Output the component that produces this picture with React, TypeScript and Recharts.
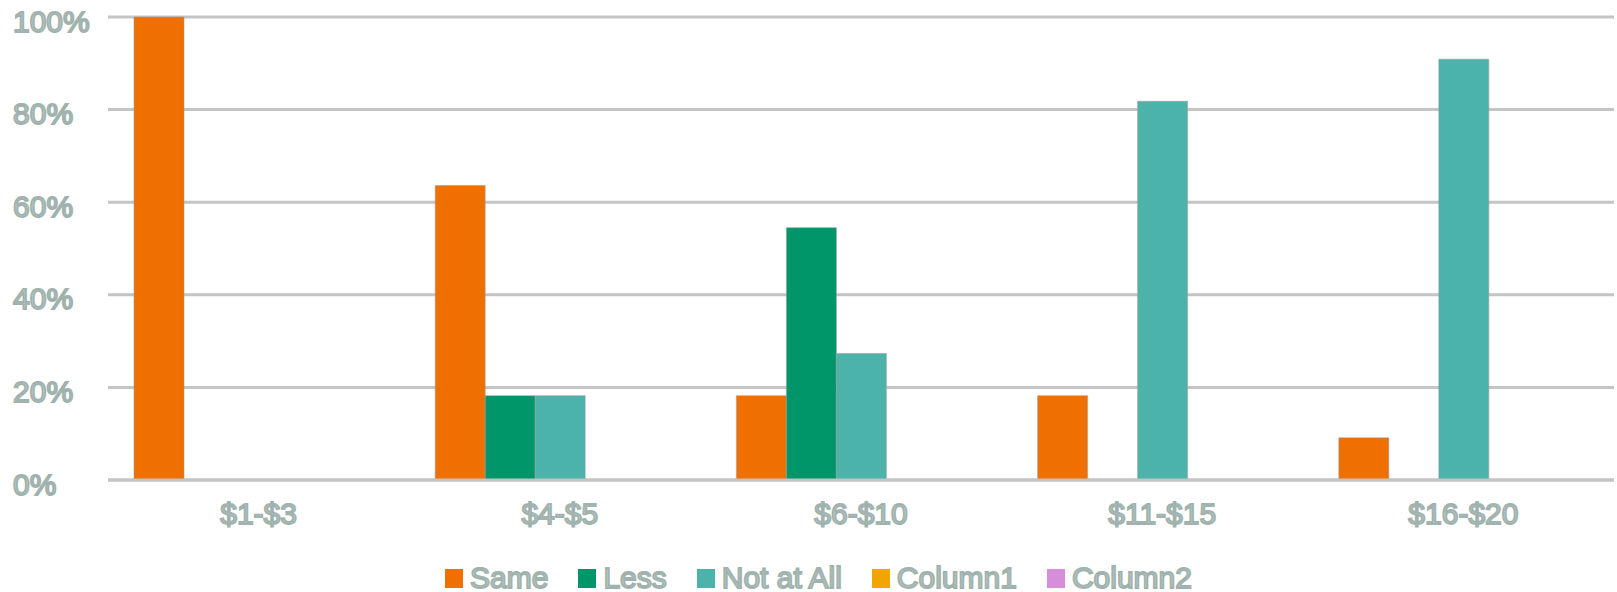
import React from 'react';
import { BarChart, Bar, XAxis, YAxis, CartesianGrid, Legend } from 'recharts';

const categories = ['$1-$3', '$4-$5', '$6-$10', '$11-$15', '$16-$20'];
const same = [100, 63.6, 18.2, 18.2, 9.1];
const less = [0, 18.2, 54.5, 0, 0];
const notAtAll = [0, 18.2, 27.3, 81.8, 90.9];
const column1: (number | null)[] = [null, null, null, null, null];
const column2: (number | null)[] = [null, null, null, null, null];
const yTicks = [0, 20, 40, 60, 80, 100];

const seriesList = [
  { key: 'same', name: 'Same', color: '#ef7000' },
  { key: 'less', name: 'Less', color: '#009669' },
  { key: 'notAtAll', name: 'Not at All', color: '#4bb3a9' },
  { key: 'column1', name: 'Column1', color: '#f2a400' },
  { key: 'column2', name: 'Column2', color: '#d78dda' },
];

const data = categories.map((c, i) => ({
  cat: c,
  same: same[i],
  less: less[i],
  notAtAll: notAtAll[i],
  column1: column1[i],
  column2: column2[i],
}));

const textFill = '#b9cbc6';
const textStroke = '#a0b2ad';
const fontFamily = '"Liberation Sans", Arial, sans-serif';

const YTick = (props: any) => {
  const { y, payload } = props;
  return (
    <text x={13} y={y + 4} textAnchor="start" dominantBaseline="central"
      fontSize={30} fontFamily={fontFamily} fill={textFill} stroke={textStroke} strokeWidth={1.8}>
      {payload.value}%
    </text>
  );
};

const XTick = (props: any) => {
  const { x, y, payload } = props;
  return (
    <text x={x} y={y + 25} textAnchor="middle" dominantBaseline="central"
      fontSize={30} fontFamily={fontFamily} fill={textFill} stroke={textStroke} strokeWidth={1.8}>
      {payload.value}
    </text>
  );
};

const LegendContent = () => (
  <div style={{ display: 'flex', justifyContent: 'flex-start', paddingTop: 23, paddingLeft: 445 }}>
    {seriesList.map((s) => (
      <div key={s.key} style={{ display: 'flex', alignItems: 'center', marginRight: 30 }}>
        <span style={{ width: 18, height: 19, background: s.color, display: 'inline-block', marginRight: 7 }} />
        <span style={{
          fontSize: 30, fontFamily, color: textFill,
          WebkitTextStroke: `1.8px ${textStroke}`, lineHeight: '30px',
        }}>{s.name}</span>
      </div>
    ))}
  </div>
);

export default function App() {
  return (
    <div style={{ width: 1617, height: 592, background: '#fff' }}>
      <style>{`body{margin:0}`}</style>
      <BarChart width={1617} height={592} data={data}
        margin={{ top: 17, right: 3, bottom: 0, left: 0 }}
        barCategoryGap={26} barGap={0}>
        <CartesianGrid vertical={false} stroke="#c4c4c4" strokeWidth={3} />
        <XAxis dataKey="cat" height={60} tickLine={false}
          axisLine={{ stroke: '#c4c4c4', strokeWidth: 3 }} tick={<XTick />} />
        <YAxis width={108} domain={[0, 100]} ticks={yTicks} axisLine={false}
          tickLine={false} tick={<YTick />} />
        <Legend verticalAlign="bottom" height={52} content={<LegendContent />} />
        {seriesList.map((s) => (
          <Bar key={s.key} dataKey={s.key} name={s.name} fill={s.color}
            stroke="#9a9a9a" strokeOpacity={0.55} strokeWidth={1}
            isAnimationActive={false} />
        ))}
      </BarChart>
    </div>
  );
}
